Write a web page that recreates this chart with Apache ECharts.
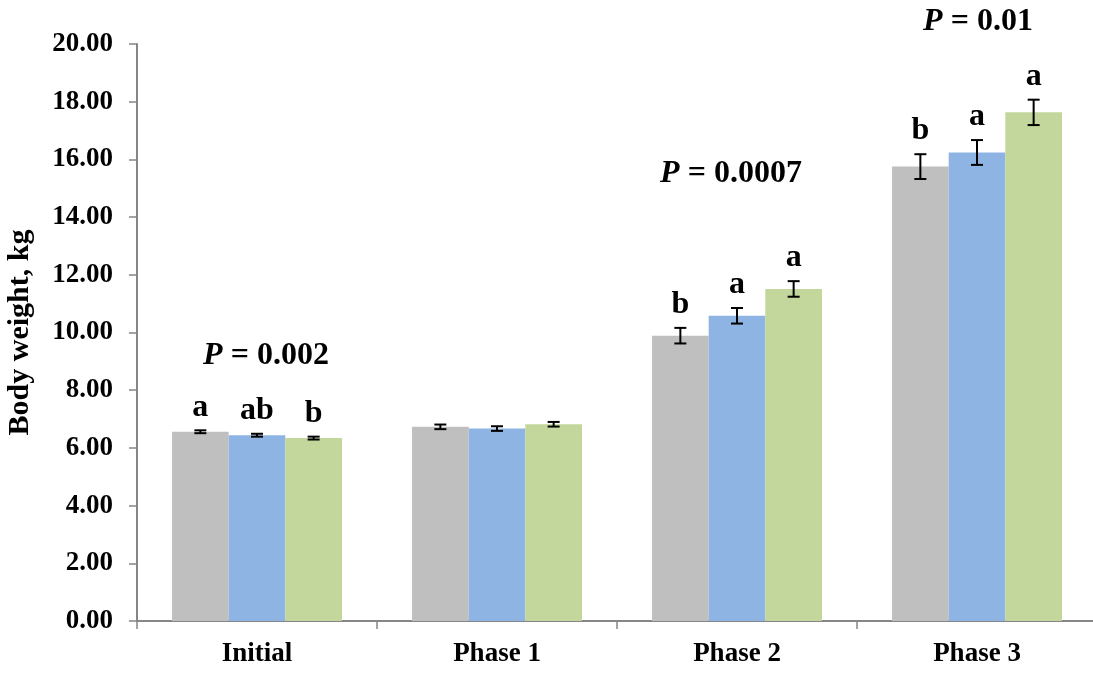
<!DOCTYPE html>
<html>
<head>
<meta charset="utf-8">
<script src="https://cdn.jsdelivr.net/npm/echarts@6/dist/echarts.min.js"></script>
<style>html,body{margin:0;padding:0;background:#fff}#c{width:1093px;height:673px}</style>
</head>
<body>
<div id="c"></div>
<script>
const categories = ['Initial', 'Phase 1', 'Phase 2', 'Phase 3'];
const grayMeans = [6.56, 6.73, 9.89, 15.75];
const grayErr = [0.05, 0.08, 0.27, 0.43];
const grayLetters = ['a', '', 'b', 'b'];
const blueMeans = [6.44, 6.67, 10.58, 16.24];
const blueErr = [0.05, 0.08, 0.27, 0.43];
const blueLetters = ['ab', '', 'a', 'a'];
const greenMeans = [6.34, 6.82, 11.51, 17.63];
const greenErr = [0.05, 0.08, 0.27, 0.44];
const greenLetters = ['b', '', 'a', 'a'];
const pLabels = ['0.002', '', '0.0007', '0.01'];
const pLabelY = [9.19, null, 15.49, 20.76];
const yTicks = [0, 2, 4, 6, 8, 10, 12, 14, 16, 18, 20];

const FONT = '"Liberation Serif", "Times New Roman", serif';
const colors = ['#BFBFBF', '#8EB4E3', '#C3D69B'];
const CAT_GAP = 0.292;

const groups = [
  {means: grayMeans, err: grayErr, letters: grayLetters},
  {means: blueMeans, err: blueErr, letters: blueLetters},
  {means: greenMeans, err: greenErr, letters: greenLetters}
];

const barSeries = groups.map((g, s) => ({
  type: 'bar',
  data: g.means,
  barGap: '0%',
  barCategoryGap: (CAT_GAP * 100) + '%',
  itemStyle: {color: colors[s]},
  z: 2
}));

const errSeries = groups.map((g, s) => ({
  type: 'custom',
  z: 5,
  silent: true,
  clip: false,
  encode: {x: 0, y: 1},
  data: g.means.map((m, i) => [i, m, g.err[i], g.letters[i]]),
  renderItem: function (params, api) {
    const ci = api.value(0), m = api.value(1), e = api.value(2);
    const letter = g.letters[params.dataIndex];
    const band = api.size([1, 0])[0];
    const bw = band * (1 - CAT_GAP) / 3;
    const c = api.coord([ci, m]);
    const x = c[0] + (s - 1) * bw;
    const yTop = api.coord([ci, m + e])[1];
    const yBot = api.coord([ci, m - e])[1];
    const hw = 6;
    const st = {stroke: '#000', lineWidth: 2};
    const children = [
      {type: 'line', shape: {x1: x, y1: yTop, x2: x, y2: yBot}, style: st},
      {type: 'line', shape: {x1: x - hw, y1: yTop, x2: x + hw, y2: yTop}, style: st},
      {type: 'line', shape: {x1: x - hw, y1: yBot, x2: x + hw, y2: yBot}, style: st}
    ];
    if (letter) {
      children.push({type: 'text', x: x, y: yTop - 23, style: {
        text: letter, fill: '#000', font: 'bold 32px ' + FONT,
        align: 'center', verticalAlign: 'middle'}});
    }
    return {type: 'group', children: children};
  }
}));

const pSeries = {
  type: 'custom',
  z: 6,
  silent: true,
  clip: false,
  encode: {x: 0, y: 1},
  data: pLabels.map((t, i) => [i, pLabelY[i] == null ? 0 : pLabelY[i], t]).filter(d => d[2]),
  renderItem: function (params, api) {
    const c = api.coord([api.value(0), api.value(1)]);
    const txt = pLabels[api.value(0)];
    const dx = api.value(0) === 0 ? 9 : (api.value(0) === 2 ? -6 : 1);
    return {type: 'text', x: c[0] + dx, y: c[1], style: {
      text: '{p|P} = ' + txt,
      rich: {p: {fontStyle: 'italic', fontWeight: 'bold', fontSize: 32, fontFamily: FONT, fill: '#000'}},
      fill: '#000', font: 'bold 32px ' + FONT,
      align: 'center', verticalAlign: 'middle'}};
  }
};

const chart = echarts.init(document.getElementById('c'), null, {renderer: 'canvas'});
chart.setOption({
  animation: false,
  backgroundColor: '#fff',
  grid: {left: 137, top: 44, width: 960, height: 577, containLabel: false, outerBoundsMode: 'none'},
  xAxis: {
    type: 'category',
    data: categories,
    axisLine: {lineStyle: {color: '#868686', width: 2}},
    axisTick: {show: true, length: 8, lineStyle: {color: '#868686', width: 1.5}},
    axisLabel: {color: '#000', fontFamily: FONT, fontWeight: 'bold', fontSize: 27, margin: 20}
  },
  yAxis: {
    type: 'value',
    min: yTicks[0],
    max: yTicks[yTicks.length - 1],
    interval: yTicks[1] - yTicks[0],
    name: 'Body weight, kg',
    nameLocation: 'middle',
    nameGap: 102,
    nameRotate: 90,
    nameTextStyle: {color: '#000', fontFamily: FONT, fontWeight: 'bold', fontSize: 30},
    splitLine: {show: false},
    axisLine: {show: true, lineStyle: {color: '#868686', width: 2}},
    axisTick: {show: true, length: 8, lineStyle: {color: '#868686', width: 1.5}},
    axisLabel: {color: '#000', fontFamily: FONT, fontWeight: 'bold', fontSize: 27, margin: 24,
      formatter: v => v.toFixed(2)}
  },
  series: [...barSeries, ...errSeries, pSeries]
});
</script>
</body>
</html>
